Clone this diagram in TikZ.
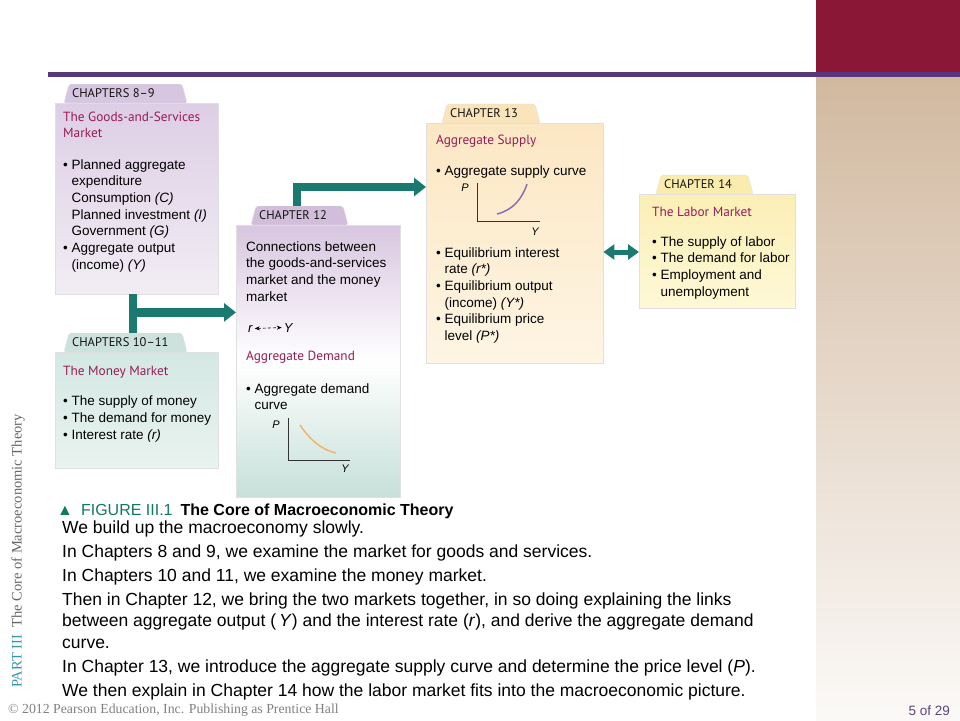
\documentclass[tikz,border=0pt]{standalone}
\usepackage{fontspec}
\setmainfont{Liberation Sans}
\newfontfamily\tabfont{PT Sans}
\newfontfamily\slidefont{Liberation Serif}
\usetikzlibrary{positioning,arrows.meta,calc}

\definecolor{slidered}{RGB}{138,23,54}
\definecolor{slidepurple}{RGB}{90,55,125}
\definecolor{slidetan}{RGB}{210,185,160}
\definecolor{flowteal}{RGB}{27,122,112}
\definecolor{headmag}{RGB}{150,28,88}
\definecolor{figteal}{RGB}{20,120,95}
\definecolor{partblue}{RGB}{50,150,180}
\definecolor{pagepurple}{RGB}{90,70,120}
\definecolor{goodstop}{RGB}{221,206,229}
\definecolor{goodsbot}{RGB}{242,237,244}
\definecolor{goodstab}{RGB}{214,198,223}
\definecolor{moneytop}{RGB}{212,232,227}
\definecolor{moneybot}{RGB}{233,243,240}
\definecolor{moneytab}{RGB}{205,226,220}
\definecolor{demandtop}{RGB}{216,198,224}
\definecolor{demandbot}{RGB}{198,224,217}
\definecolor{demandtab}{RGB}{210,190,218}
\definecolor{supplytop}{RGB}{252,231,195}
\definecolor{supplybot}{RGB}{254,245,228}
\definecolor{supplytab}{RGB}{251,227,186}
\definecolor{labortop}{RGB}{251,239,182}
\definecolor{laborbot}{RGB}{254,248,214}
\definecolor{labortab}{RGB}{250,236,172}

\newcommand{\dotitem}{\textbullet\ }
\newcommand{\dotgap}{\phantom{\textbullet\ }}

\begin{document}
\begin{tikzpicture}[
    x=1pt, y=-1pt,
    font=\fontsize{13.5}{16.7}\selectfont,
    panel/.style={rectangle, draw=black!12, anchor=north west, inner sep=0pt,
        top color=#1top, bottom color=#1bot},
    tabshape/.style={draw=black!12, rounded corners=2pt},
    tablabel/.style={font=\tabfont\fontsize{12.5}{14}\selectfont, text=black!92,
        anchor=west, inner sep=0pt},
    heading/.style={font=\tabfont\fontsize{13.3}{16}\selectfont, text=headmag,
        anchor=base west, inner sep=0pt, align=left},
    points/.style={anchor=base west, inner sep=0pt, align=left},
    flow/.style={draw=flowteal, line width=8.5pt, line join=miter,
        -{Triangle[width=18pt,length=12pt]}},
    trunk/.style={draw=flowteal, line width=8pt},
    twoway/.style={draw=flowteal, line width=5pt,
        {Triangle[width=15pt,length=11pt]}-{Triangle[width=15pt,length=11pt]}},
    axis/.style={draw=black!80, line width=0.9pt},
    glabel/.style={font=\fontsize{11}{12}\selectfont\itshape, inner sep=0pt},
]
\useasboundingbox (0,0) rectangle (960,720);

% slide frame
\fill[slidered] (816,0) rectangle (960,72);
\shade[top color=slidetan, bottom color=slidetan!8] (816,77) rectangle (960,720);
\fill[slidepurple] (48,72) rectangle (960,77);

% chapter panels
\node[panel=goods, minimum width=163pt, minimum height=191pt] (goods) at (55,103) {};
\node[panel=money, minimum width=163pt, minimum height=116pt] (money) at (55,352) {};
\node[panel=demand, middle color=white, minimum width=164pt, minimum height=272pt]
    (demand) at (236,225) {};
\node[panel=supply, minimum width=177pt, minimum height=240pt] (supply) at (426,123) {};
\node[panel=labor, minimum width=156pt, minimum height=114pt] (labor) at (639,194) {};

% tabs
\foreach \bx/\dx/\w/\lbl in {goods/9/123/CHAPTERS 8–9, money/9/123/CHAPTERS 10–11,
        demand/15/97/CHAPTER 12, supply/16/98/CHAPTER 13, labor/17/97/CHAPTER 14} {
    \filldraw[tabshape, fill=\bx tab] ($(\bx.north west)+(\dx,0)$) -- ++(5,-19)
        coordinate (\bx-tab) -- ++({\w-10},0) -- ++(5,19) -- cycle;
    \node[tablabel] (\bx-label) at ($(\bx.north west)+({\dx+8},-9.5)$) {\lbl};
}

% connectors
\coordinate (stem) at ($(goods.south west)+(78,0)$);
\draw[trunk] (stem) -- (stem |- money-tab);
\coordinate (branch) at ($(stem)+(0,18)$);
\draw[flow] (branch) -- (branch -| demand.west);
\coordinate (lift) at ($(demand-tab)+(41,0)$);
\coordinate (supplyin) at ($(supply.north west)+(0,64)$);
\draw[flow] (lift) |- (supplyin);
\coordinate (laborin) at ($(labor.north west)+(0,58)$);
\draw[twoway] (supply.east |- laborin) -- (laborin);

% goods-and-services market (base = last line)
\node[heading] (goodshead) at (63,137) {The Goods-and-Services\\Market};
\node[points] (goodslist) at (63,269.2) {\dotitem Planned aggregate\\
    \dotgap expenditure\\
    \dotgap Consumption \textit{(C)}\\
    \dotgap Planned investment \textit{(I)}\\
    \dotgap Government \textit{(G)}\\
    \dotitem Aggregate output\\
    \dotgap (income) \textit{(Y)}};

% money market
\node[heading] (moneyhead) at (63,375) {The Money Market};
\node[points] (moneylist) at (63,439) {\dotitem The supply of money\\
    \dotitem The demand for money\\
    \dotitem Interest rate \textit{(r)}};

% aggregate demand
\node[points] (demandintro) at (246,301.1) {Connections between\\
    the goods-and-services\\market and the money\\market};
\node[glabel, font=\fontsize{13}{14}\selectfont\itshape, anchor=base west] (rsym) at (248,332) {r};
\node[glabel, font=\fontsize{13}{14}\selectfont\itshape, right=31pt of rsym.base east,
    anchor=base west] (ysym) {Y};
\draw[line width=0.6pt, dash pattern=on 3pt off 2pt,
    {Stealth[length=5pt,width=4pt]}-{Stealth[length=5pt,width=4pt]}]
    ($(rsym.east)+(2,0)$) -- ($(ysym.west)+(-2,0)$);
\node[heading] (demandhead) at (246,360) {Aggregate Demand};
\node[points] (demandlist) at (246,409.7) {\dotitem Aggregate demand\\\dotgap curve};
\coordinate (adorigin) at ($(demand.north west)+(52,235)$);
\draw[axis] ($(adorigin)+(0,-42)$) -- (adorigin) -- ++(62,0);
\draw[draw={rgb,255:red,240;green,180;blue,110}, line width=1.5pt]
    ($(adorigin)+(12,-35)$) .. controls ($(adorigin)+(22,-20)$) and ($(adorigin)+(34,-10)$)
    .. ($(adorigin)+(48,-7)$);
\node[glabel] (adp) at ($(adorigin)+(-12,-35)$) {P};
\node[glabel] (ady) at ($(adorigin)+(57,9)$) {Y};

% aggregate supply
\node[heading] (supplyhead) at (436,144) {Aggregate Supply};
\node[points] (supplycurve) at (436,175) {\dotitem Aggregate supply curve};
\coordinate (asorigin) at ($(supply.north west)+(51,98)$);
\draw[axis] ($(asorigin)+(0,-38)$) -- (asorigin) -- ++(63,0);
\draw[draw={rgb,255:red,140;green,110;blue,180}, line width=1.5pt]
    ($(asorigin)+(20,-7)$) .. controls ($(asorigin)+(36,-11)$) and ($(asorigin)+(45,-22)$)
    .. ($(asorigin)+(50,-37)$);
\node[glabel] (asp) at ($(asorigin)+(-12,-33)$) {P};
\node[glabel] (asy) at ($(asorigin)+(58,11)$) {Y};
\node[points] (supplylist) at (436,340.5) {\dotitem Equilibrium interest\\
    \dotgap rate \textit{(r*)}\\
    \dotitem Equilibrium output\\
    \dotgap (income) \textit{(Y*)}\\
    \dotitem Equilibrium price\\
    \dotgap level \textit{(P*)}};

% labor market
\node[heading] (laborhead) at (652,216) {The Labor Market};
\node[points] (laborlist) at (652,296.1) {\dotitem The supply of labor\\
    \dotitem The demand for labor\\
    \dotitem Employment and\\
    \dotgap unemployment};

% caption and notes
\node[anchor=base west, inner sep=0pt, font=\fontsize{16}{18}\selectfont] (figcap) at (57,515)
    {\textcolor{figteal}{▲\enspace FIGURE III.1}\enspace\textbf{The Core of Macroeconomic Theory}};
\node[points, font=\fontsize{17.5}{21.5}\selectfont] (notes) at (62,696)
    {We build up the macroeconomy slowly.\\[2.5pt]
     In Chapters 8 and 9, we examine the market for goods and services.\\[2.5pt]
     In Chapters 10 and 11, we examine the money market.\\[2.5pt]
     Then in Chapter 12, we bring the two markets together, in so doing explaining the links\\
     between aggregate output (\,\textit{Y}) and the interest rate (\textit{r}), and derive the aggregate demand\\
     curve.\\[2.5pt]
     In Chapter 13, we introduce the aggregate supply curve and determine the price level (\textit{P}).\\[2.5pt]
     We then explain in Chapter 14 how the labor market fits into the macroeconomic picture.};

% slide furniture
\node[rotate=90, anchor=west, inner sep=0pt, font=\slidefont\fontsize{14.5}{16}\selectfont] (parttag)
    at (18,688) {\textcolor{partblue}{PART III}\enspace\textcolor{black!60}{The Core of Macroeconomic Theory}};
\node[anchor=base west, inner sep=0pt, font=\slidefont\fontsize{13.8}{15}\selectfont, text=black!50]
    (copyright) at (8,713) {© 2012 Pearson Education, Inc. Publishing as Prentice Hall};
\node[anchor=base east, inner sep=0pt, text=pagepurple] (pagenum) at (950,715) {5 of 29};

\end{tikzpicture}
\end{document}
